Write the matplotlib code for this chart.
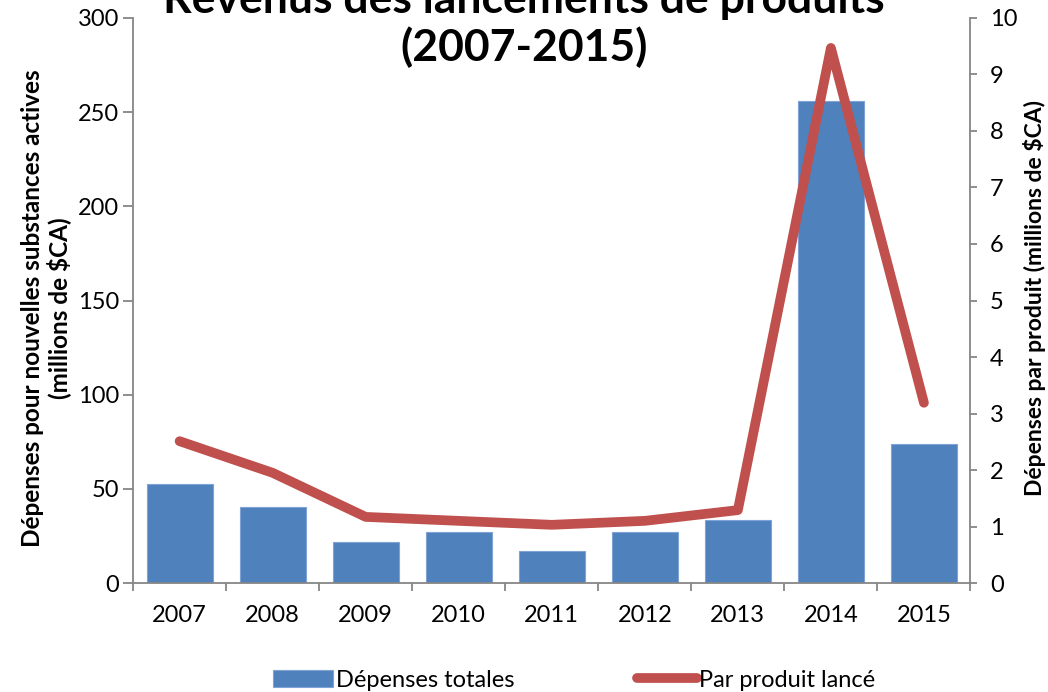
import numpy as np
import matplotlib.pyplot as plt

plt.rcParams['font.family'] = ['Lato', 'DejaVu Sans']

years = ['2007', '2008', '2009', '2010', '2011', '2012', '2013', '2014', '2015']
depenses_totales = [52.5, 40.5, 22, 27, 17, 27, 33.5, 256, 74]
par_produit = [2.51, 1.95, 1.17, 1.1, 1.03, 1.1, 1.29, 9.47, 3.19]

blue = '#4F81BD'
red = '#C0504D'
grey = '#868686'

fig = plt.figure(figsize=(10.48, 6.92), dpi=100)
ax = fig.add_axes([0.127, 0.1575, 0.799, 0.8165])
x = np.arange(len(years))

bars = ax.bar(x, depenses_totales, width=0.71, color=blue, edgecolor='#7FA3D4',
              linewidth=0.8, label='Dépenses totales', zorder=2)
ax.set_xlim(-0.5, len(years) - 0.5)
ax.set_ylim(0, 300)
ax.set_yticks(np.arange(0, 301, 50))
ax.set_xticks(x)
ax.set_xticklabels(years)
ax.set_xticks(np.arange(-0.5, len(years), 1), minor=True)
ax.tick_params(axis='x', which='major', length=0, labelsize=17, pad=16)
ax.tick_params(axis='x', which='minor', length=6, color=grey, width=1.3, direction='out')
ax.tick_params(axis='y', length=7, color=grey, width=1.3, labelsize=17, pad=3)
for s in ['top', 'right']:
    ax.spines[s].set_visible(False)
for s in ['left', 'bottom']:
    ax.spines[s].set_color(grey)
    ax.spines[s].set_linewidth(1.3)

ax2 = ax.twinx()
line, = ax2.plot(x, par_produit, color=red, linewidth=7, solid_capstyle='round',
                 solid_joinstyle='round', label='Par produit lancé', zorder=3)
ax2.set_ylim(0, 10)
ax2.set_yticks(np.arange(0, 11, 1))
ax2.tick_params(axis='y', length=5, color=grey, width=1.3, labelsize=17, pad=9)
for s in ['top', 'left', 'bottom']:
    ax2.spines[s].set_visible(False)
ax2.spines['right'].set_color(grey)
ax2.spines['right'].set_linewidth(1.3)

# axis titles placed in figure coordinates
fig.text(46 / 1048, 1 - 308 / 692,
         'Dépenses pour nouvelles substances actives\n(millions de $CA)',
         rotation=90, ha='center', va='center', fontsize=17.5, fontweight='bold',
         linespacing=1.1)
fig.text(1035 / 1048, 1 - 298 / 692, 'Dépenses par produit (millions de $CA)',
         rotation=90, ha='center', va='center', fontsize=16.5, fontweight='bold')

fig.text(0.5, 1 - 24 / 692, 'Revenus des lancements de produits\n(2007-2015)',
         ha='center', va='center', fontsize=32, fontweight='bold', linespacing=1.2)

fig.legend([bars, line], ['Dépenses totales', 'Par produit lancé'],
           loc='center', bbox_to_anchor=(0.548, 0.017), ncol=2, frameon=False,
           fontsize=17, handlelength=2.55, handletextpad=0.1, columnspacing=5.2)

fig.savefig('out.png', dpi=100)
